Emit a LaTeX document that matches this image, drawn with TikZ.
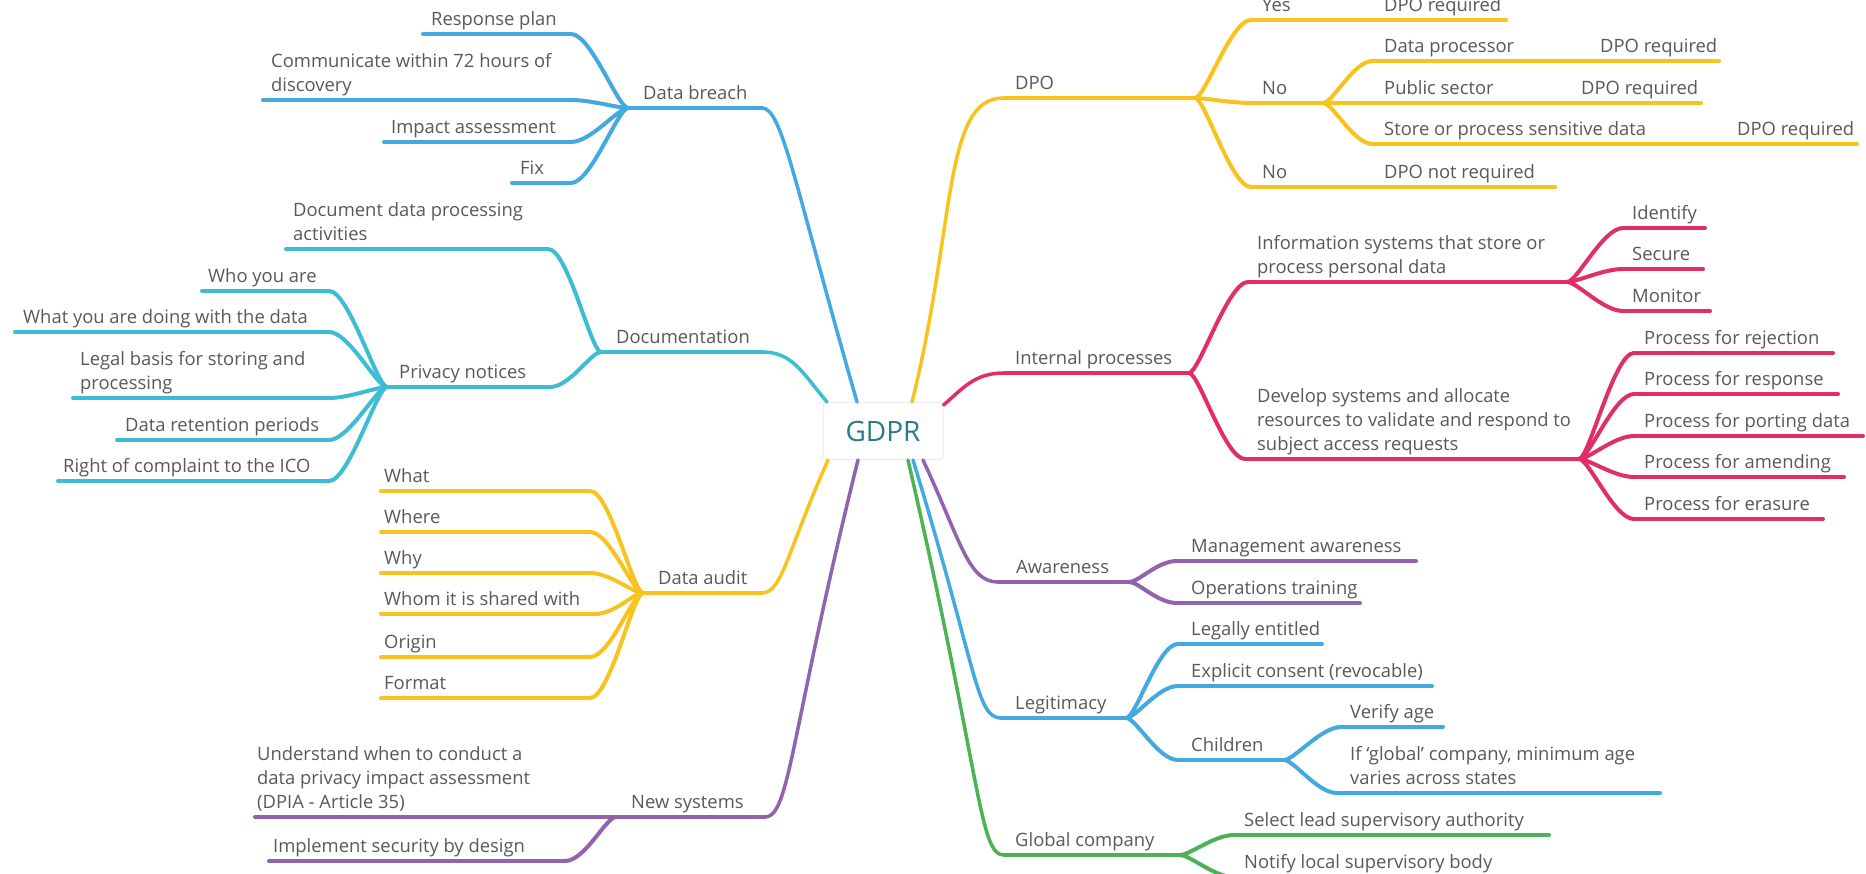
\documentclass[tikz,border=0pt]{standalone}
\usepackage{fontspec}
\setmainfont{Open Sans}
\definecolor{ink}{HTML}{595959}
\definecolor{gdprcol}{HTML}{2C7A8A}
\definecolor{cblue}{HTML}{42A9E1}
\definecolor{ccyan}{HTML}{3DBDD3}
\definecolor{cyel}{HTML}{F8C31C}
\definecolor{cpink}{HTML}{DF2F66}
\definecolor{cpurp}{HTML}{8F63AE}
\definecolor{cgreen}{HTML}{4DB253}
\tikzset{
  lbl/.style={anchor=south west, inner sep=0pt, yshift=3.5pt, text depth=4.5pt,
    align=left, text=ink, font=\fontsize{18.4}{24}\selectfont},
  stem/.style={draw=#1, line width=4pt, line cap=round},
  limb/.style={draw=#1, line width=3.5pt, line cap=round},
  twigl/.style={stem=#1, out=180, in=0, out distance=10pt, in distance=20pt},
  twigr/.style={stem=#1, out=0, in=180, out distance=10pt, in distance=20pt},
  hub/.style={draw=black!7, fill=white, line width=1pt, rounded corners=3pt,
    minimum width=120pt, minimum height=57pt, inner sep=0pt, text=gdprcol,
    font=\fontsize{28}{30}\selectfont},
}
\begin{document}
\begin{tikzpicture}[x=1pt,y=-1pt]
\path[use as bounding box, fill=white] (0,0) rectangle (1866,873);
\node[hub] (gdpr) at (883,431) {GDPR};

% Data breach
\coordinate (db-l) at (628,108);
\coordinate (db-r) at (762,108);
\node[lbl] (db) at (643,108) {Data breach};
\draw[limb=cblue] ([xshift=-26pt]gdpr.north) to[out=106, in=0, out distance=230pt, in distance=20pt] (db-r);
\draw[stem=cblue] (db-l) -- (db-r);
\foreach \nm/\y/\lx/\tx/\txt in {
  rp/34/423/431/{Response plan},
  com/100/263/271/{Communicate within 72 hours of\\discovery},
  imp/142/384/391/{Impact assessment},
  fix/183/512/520/{Fix}}{
  \coordinate (\nm-l) at (\lx,\y);
  \coordinate (\nm-r) at (571,\y);
  \node[lbl] (\nm) at (\tx,\y) {\txt};
  \draw[stem=cblue] (\nm-l) -- (\nm-r);
  \draw[twigl=cblue] (db-l) to (\nm-r);
}

% Documentation
\coordinate (doc-l) at (601,352);
\coordinate (doc-r) at (762,352);
\node[lbl] (doc) at (616,352) {Documentation};
\draw[limb=ccyan] ([xshift=-56pt]gdpr.north) to[out=130, in=0, out distance=40pt, in distance=30pt] (doc-r);
\draw[stem=ccyan] (doc-l) -- (doc-r);
\foreach \nm/\y/\lx/\rx/\tx/\txt in {
  dd/249/286/548/293/{Document data processing\\activities},
  pn/387/387/550/399/{Privacy notices}}{
  \coordinate (\nm-l) at (\lx,\y);
  \coordinate (\nm-r) at (\rx,\y);
  \node[lbl] (\nm) at (\tx,\y) {\txt};
  \draw[stem=ccyan] (\nm-l) -- (\nm-r);
  \draw[twigl=ccyan] (doc-l) to (\nm-r);
}
\foreach \nm/\y/\lx/\tx/\txt in {
  who/291/202/208/{Who you are},
  what/332/15/23/{What you are doing with the data},
  legal/398/73/80/{Legal basis for storing and\\processing},
  ret/440/117/125/{Data retention periods},
  ico/481/58/63/{Right of complaint to the ICO}}{
  \coordinate (\nm-l) at (\lx,\y);
  \coordinate (\nm-r) at (329,\y);
  \node[lbl] (\nm) at (\tx,\y) {\txt};
  \draw[stem=ccyan] (\nm-l) -- (\nm-r);
  \draw[twigl=ccyan] (pn-l) to (\nm-r);
}

% Data audit
\coordinate (da-l) at (643,593);
\coordinate (da-r) at (762,593);
\node[lbl] (da) at (658,593) {Data audit};
\draw[limb=cyel] ([xshift=-55pt]gdpr.south) to[out=246, in=0, out distance=100pt, in distance=20pt] (da-r);
\draw[stem=cyel] (da-l) -- (da-r);
\foreach \nm/\y/\rx/\txt in {
  wht/491/590/What, whr/532/590/Where, why/573/590/Why,
  whom/614/595/{Whom it is shared with}, orig/657/590/Origin, fmt/698/590/Format}{
  \coordinate (\nm-l) at (381,\y);
  \coordinate (\nm-r) at (\rx,\y);
  \node[lbl] (\nm) at (384,\y) {\txt};
  \draw[stem=cyel] (\nm-l) -- (\nm-r);
  \draw[twigl=cyel] (da-l) to (\nm-r);
}

% New systems
\coordinate (ns-l) at (616,817);
\coordinate (ns-r) at (765,817);
\node[lbl] (ns) at (631,817) {New systems};
\draw[limb=cpurp] ([xshift=-25pt]gdpr.south) to[out=256, in=0, out distance=280pt, in distance=25pt] (ns-r);
\draw[stem=cpurp] (ns-l) -- (ns-r);
\coordinate (dpia-l) at (255,817);
\node[lbl] (dpia) at (257,817) {Understand when to conduct a\\data privacy impact assessment\\(DPIA - Article 35)};
\draw[stem=cpurp] (dpia-l) -- (ns-l);
\coordinate (sec-l) at (269,861);
\coordinate (sec-r) at (565,861);
\node[lbl] (secd) at (273,861) {Implement security by design};
\draw[stem=cpurp] (sec-l) -- (sec-r);
\draw[twigl=cpurp] (ns-l) to (sec-r);

% DPO
\coordinate (dpo-l) at (1003,98);
\coordinate (dpo-r) at (1195,98);
\node[lbl] (dpo) at (1015,98) {DPO};
\draw[limb=cyel] ([xshift=29pt]gdpr.north) to[out=76, in=180, out distance=180pt, in distance=60pt] (dpo-l);
\draw[stem=cyel] (dpo-l) -- (dpo-r);
\foreach \nm/\y/\ex/\txt/\res in {
  yes/20/1506/Yes/{DPO required},
  nob/187/1555/No/{DPO not required}}{
  \coordinate (\nm-l) at (1251,\y);
  \coordinate (\nm-r) at (1373,\y);
  \coordinate (\nm-e) at (\ex,\y);
  \node[lbl] (\nm) at (1262,\y) {\txt};
  \node[lbl] (\nm-res) at (1384,\y) {\res};
  \draw[stem=cyel] (\nm-l) -- (\nm-r) -- (\nm-e);
  \draw[twigr=cyel] (dpo-r) to (\nm-l);
}
\coordinate (noa-l) at (1251,103);
\coordinate (noa-r) at (1323,103);
\node[lbl] (noa) at (1262,103) {No};
\draw[stem=cyel] (noa-l) -- (noa-r);
\draw[twigr=cyel] (dpo-r) to (noa-l);
\foreach \nm/\y/\rx/\ex/\txt in {
  dp/61/1590/1719/{Data processor},
  ps/103/1571/1701/{Public sector},
  ss/144/1727/1857/{Store or process sensitive data}}{
  \coordinate (\nm-l) at (1373,\y);
  \coordinate (\nm-r) at (\rx,\y);
  \coordinate (\nm-e) at (\ex,\y);
  \node[lbl] (\nm) at (1384,\y) {\txt};
  \node[lbl] (\nm-res) at (\rx+10,\y) {DPO required};
  \draw[stem=cyel] (\nm-l) -- (\nm-r) -- (\nm-e);
  \draw[twigr=cyel] (noa-r) to (\nm-l);
}

% Internal processes
\coordinate (ip-l) at (1004,373);
\coordinate (ip-r) at (1189,373);
\node[lbl] (ip) at (1015,373) {Internal processes};
\draw[limb=cpink] ([yshift=-3pt]gdpr.north east) to[out=40, in=180, out distance=25pt, in distance=30pt] (ip-l);
\draw[stem=cpink] (ip-l) -- (ip-r);
\foreach \nm/\y/\lx/\rx/\txt in {
  info/282/1248/1567/{Information systems that store or\\process personal data},
  dev/459/1245/1579/{Develop systems and allocate\\resources to validate and respond to\\subject access requests}}{
  \coordinate (\nm-l) at (\lx,\y);
  \coordinate (\nm-r) at (\rx,\y);
  \node[lbl] (\nm) at (1257,\y) {\txt};
  \draw[stem=cpink] (\nm-l) -- (\nm-r);
  \draw[twigr=cpink] (ip-r) to (\nm-l);
}
\foreach \nm/\y/\rx/\txt in {
  idf/228/1705/Identify, scr/269/1703/Secure, mon/311/1710/Monitor}{
  \coordinate (\nm-l) at (1623,\y);
  \coordinate (\nm-r) at (\rx,\y);
  \node[lbl] (\nm) at (1632,\y) {\txt};
  \draw[stem=cpink] (\nm-l) -- (\nm-r);
  \draw[twigr=cpink] (info-r) to (\nm-l);
}
\foreach \nm/\y/\rx/\txt in {
  rej/353/1833/{Process for rejection},
  resp/394/1838/{Process for response},
  port/436/1863/{Process for porting data},
  amd/477/1844/{Process for amending},
  era/519/1823/{Process for erasure}}{
  \coordinate (\nm-l) at (1634,\y);
  \coordinate (\nm-r) at (\rx,\y);
  \node[lbl] (\nm) at (1644,\y) {\txt};
  \draw[stem=cpink] (\nm-l) -- (\nm-r);
  \draw[twigr=cpink] (dev-r) to (\nm-l);
}

% Awareness
\coordinate (aw-l) at (998,582);
\coordinate (aw-r) at (1129,582);
\node[lbl] (aw) at (1016,582) {Awareness};
\draw[limb=cpurp] ([xshift=40pt]gdpr.south) to[out=295, in=180, out distance=90pt, in distance=30pt] (aw-l);
\draw[stem=cpurp] (aw-l) -- (aw-r);
\foreach \nm/\y/\rx/\txt in {
  mgmt/561/1416/{Management awareness},
  ops/603/1360/{Operations training}}{
  \coordinate (\nm-l) at (1177,\y);
  \coordinate (\nm-r) at (\rx,\y);
  \node[lbl] (\nm) at (1191,\y) {\txt};
  \draw[stem=cpurp] (\nm-l) -- (\nm-r);
  \draw[twigr=cpurp] (aw-r) to (\nm-l);
}

% Legitimacy
\coordinate (lg-l) at (1001,718);
\coordinate (lg-r) at (1126,718);
\node[lbl] (lg) at (1015,718) {Legitimacy};
\draw[limb=cblue] ([xshift=30pt]gdpr.south) to[out=287, in=180, out distance=220pt, in distance=25pt] (lg-l);
\draw[stem=cblue] (lg-l) -- (lg-r);
\foreach \nm/\y/\rx/\txt in {
  leg/644/1322/{Legally entitled},
  cons/686/1432/{Explicit consent (revocable)},
  chd/760/1284/Children}{
  \coordinate (\nm-l) at (1178,\y);
  \coordinate (\nm-r) at (\rx,\y);
  \node[lbl] (\nm) at (1191,\y) {\txt};
  \draw[stem=cblue] (\nm-l) -- (\nm-r);
  \draw[twigr=cblue] (lg-r) to (\nm-l);
}
\foreach \nm/\y/\lx/\rx/\txt in {
  age/727/1341/1443/{Verify age},
  glob/793/1337/1660/{If ‘global’ company, minimum age\\varies across states}}{
  \coordinate (\nm-l) at (\lx,\y);
  \coordinate (\nm-r) at (\rx,\y);
  \node[lbl] (\nm) at (1350,\y) {\txt};
  \draw[stem=cblue] (\nm-l) -- (\nm-r);
  \draw[twigr=cblue] (chd-r) to (\nm-l);
}

% Global company
\coordinate (gc-l) at (1004,855);
\coordinate (gc-r) at (1180,855);
\node[lbl] (gc) at (1015,855) {Global company};
\draw[limb=cgreen] ([xshift=25pt]gdpr.south) to[out=283, in=180, out distance=330pt, in distance=25pt] (gc-l);
\draw[stem=cgreen] (gc-l) -- (gc-r);
\foreach \nm/\y/\rx/\txt in {
  lead/835/1549/{Select lead supervisory authority},
  ntf/877/1540/{Notify local supervisory body}}{
  \coordinate (\nm-l) at (1234,\y);
  \coordinate (\nm-r) at (\rx,\y);
  \node[lbl] (\nm) at (1244,\y) {\txt};
  \draw[stem=cgreen] (\nm-l) -- (\nm-r);
  \draw[twigr=cgreen] (gc-r) to (\nm-l);
}
\end{tikzpicture}
\end{document}
